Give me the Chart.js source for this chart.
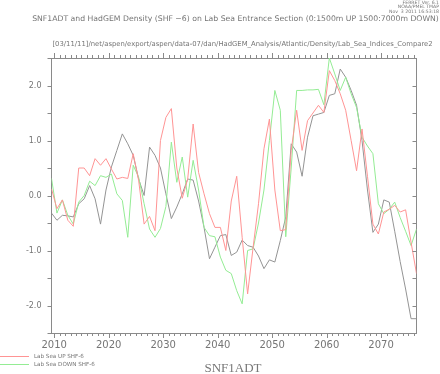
<!DOCTYPE html>
<html><head><meta charset="utf-8">
<script src="https://cdn.jsdelivr.net/npm/chart.js@4.4.0/dist/chart.umd.min.js"></script>
<style>html,body{margin:0;padding:0;background:#fff;overflow:hidden}canvas{display:block}</style>
</head><body>
<canvas id="c" width="440" height="374"></canvas>
<script>
// ---- data ----
const years = [2009.5,2010.5,2011.5,2012.5,2013.5,2014.5,2015.5,2016.5,2017.5,2018.5,
  2019.5,2020.5,2021.5,2022.5,2023.5,2024.5,2025.5,2026.5,2027.5,2028.5,
  2029.5,2030.5,2031.5,2032.5,2033.5,2034.5,2035.5,2036.5,2037.5,2038.5,
  2039.5,2040.5,2041.5,2042.5,2043.5,2044.5,2045.5,2046.5,2047.5,2048.5,
  2049.5,2050.5,2051.5,2052.5,2053.5,2054.5,2055.5,2056.5,2057.5,2058.5,
  2059.5,2060.5,2061.5,2062.5,2063.5,2064.5,2065.5,2066.5,2067.5,2068.5,
  2069.5,2070.5,2071.5,2072.5,2073.5,2074.5,2075.5,2076.5];
const labSeaUp = [0.12,-0.24,-0.08,-0.45,-0.56,0.50,0.50,0.36,0.67,0.55,
  0.67,0.48,0.30,0.33,0.31,0.76,0.27,-0.52,-0.38,-0.64,
  1.00,1.42,1.58,0.50,-0.05,0.30,1.30,0.42,0.03,-0.33,
  -0.58,-0.58,-1.00,-0.10,0.35,-0.76,-1.79,-0.95,-0.15,0.85,
  1.39,0.10,-0.64,-0.62,0.82,1.55,0.82,1.36,1.50,1.64,
  1.51,2.27,2.09,1.85,1.55,1.00,0.45,1.21,0.35,-0.52,
  -0.70,-0.30,-0.25,-0.18,-0.30,-0.26,-0.85,-1.42];
const labSeaDown = [0.31,-0.32,-0.08,-0.36,-0.52,-0.12,0.00,0.26,0.18,0.36,
  0.33,0.39,0.03,-0.09,-0.76,0.55,0.33,-0.15,-0.61,-0.76,
  -0.60,-0.20,0.97,0.24,0.70,-0.03,0.64,0.10,-0.58,-0.73,
  -0.75,-1.12,-1.36,-1.42,-1.73,-1.97,-1.00,-0.97,-0.50,0.10,
  1.00,1.91,1.55,-0.75,0.50,1.91,1.91,1.92,1.92,1.93,
  1.65,2.50,2.21,1.91,2.15,1.85,1.60,1.06,0.90,0.76,
  -0.15,-0.33,-0.25,-0.12,-0.40,-0.65,-0.91,-0.61];
const snf1adt = [-0.32,-0.45,-0.36,-0.37,-0.39,-0.15,-0.06,0.18,-0.06,-0.52,
  0.10,0.52,0.82,1.12,0.94,0.73,0.30,0.00,0.88,0.73,
  0.50,0.03,-0.42,-0.21,0.03,0.30,0.28,-0.10,-0.58,-1.15,
  -0.94,-0.73,-0.71,-1.09,-1.03,-0.81,-0.91,-0.94,-1.10,-1.33,
  -1.17,-1.21,-0.82,-0.39,0.94,0.79,0.35,1.06,1.45,1.48,
  1.51,1.82,1.85,2.30,2.15,1.91,1.64,1.00,0.10,-0.67,
  -0.52,-0.08,-0.12,-0.65,-1.20,-1.70,-2.24,-2.24];
const xTickLabels = [2010,2020,2030,2040,2050,2060,2070];
const yTickLabels = [-2,-1,0,1,2];
const yMinorTicks = [-2.5,-2,-1.5,-1,-0.5,0,0.5,1,1.5,2,2.5];
const seriesNames = ['Lab Sea UP SHF-6','Lab Sea DOWN SHF-6','SNF1ADT'];
const titleText = 'SNF1ADT and HadGEM Density (SHF \u22126) on Lab Sea Entrance Section (0:1500m UP 1500:7000m DOWN)';
const subtitleText = '[03/11/11]/net/aspen/export/aspen/data-07/dan/HadGEM_Analysis/Atlantic/Density/Lab_Sea_Indices_Compare2';
const headerLines = ['FERRET Ver. 6.1','NOAA/PMEL TMAP','Nov  3 2011 16:53:18'];
const bottomLabel = 'SNF1ADT';

// ---- styles ----
const RED = '#ff9494', GREEN = '#94ec94', GRAY = '#949494';
const AXIS = '#8a8a8a', TXT = '#757575';
const XMIN = 2009.5, XMAX = 2076.5, YMIN = -2.5, YMAX = 2.5;

function fitSize(ctx, text, family, targetW) {
  ctx.font = '20px ' + family;
  return 20 * targetW / ctx.measureText(text).width;
}

const decor = {
  id: 'decor',
  afterDraw(chart) {
    const {ctx, chartArea: a, scales} = chart;
    const xs = scales.x, ys = scales.y;
    ctx.save();
    ctx.strokeStyle = AXIS; ctx.lineWidth = 1;
    ctx.beginPath();
    for (let yr = Math.ceil(XMIN); yr <= XMAX; yr++) {
      const px = Math.round(xs.getPixelForValue(yr)) + 0.5;
      const major = yr % 10 === 0;
      const L = major ? 5 : 3;
      ctx.moveTo(px, a.bottom); ctx.lineTo(px, a.bottom + L);
      ctx.moveTo(px, a.top); ctx.lineTo(px, a.top - L);
    }
    for (const v of yMinorTicks) {
      const py = Math.round(ys.getPixelForValue(v)) + 0.5;
      ctx.moveTo(a.left, py); ctx.lineTo(a.left - 4, py);
      ctx.moveTo(a.right, py); ctx.lineTo(a.right - 4, py);
    }
    ctx.stroke();

    ctx.fillStyle = TXT;
    ctx.textBaseline = 'middle';
    // header
    ctx.textAlign = 'right';
    ctx.font = '4.6px "DejaVu Sans"';
    headerLines.forEach((t, i) => ctx.fillText(t, 439, 3 + i * 4.2));
    // title
    ctx.textAlign = 'center';
    let s = fitSize(ctx, titleText, '"DejaVu Sans"', 407);
    ctx.font = s + 'px "DejaVu Sans"';
    ctx.fillText(titleText, 235.5, 19);
    s = fitSize(ctx, subtitleText, '"DejaVu Sans"', 381);
    ctx.font = s + 'px "DejaVu Sans"';
    ctx.fillText(subtitleText, 242.5, 44.5);
    // legend
    const ds = chart.data.datasets;
    [0, 1].forEach((i, j) => {
      const y = 356.5 + j * 8;
      ctx.strokeStyle = ds[i].borderColor;
      ctx.beginPath(); ctx.moveTo(0, y); ctx.lineTo(29, y); ctx.stroke();
      ctx.textAlign = 'left';
      ctx.font = '5.6px "DejaVu Sans"';
      ctx.fillText(ds[i].label, 34, y);
    });
    // bottom label
    ctx.textAlign = 'center';
    ctx.fillStyle = '#777';
    ctx.font = '13px "Liberation Serif"';
    ctx.fillText(bottomLabel, 233, 369);
    ctx.restore();
  }
};

const mk = (vals) => years.map((x, i) => ({x, y: vals[i]}));
new Chart(document.getElementById('c').getContext('2d'), {
  type: 'line',
  data: {
    datasets: [
      {label: seriesNames[0], data: mk(labSeaUp), borderColor: RED},
      {label: seriesNames[1], data: mk(labSeaDown), borderColor: GREEN},
      {label: seriesNames[2], data: mk(snf1adt), borderColor: GRAY}
    ].map(d => Object.assign(d, {borderWidth: 1, pointRadius: 0, tension: 0, fill: false, xAxisID: 'x', yAxisID: 'y'}))
  },
  options: {
    responsive: false, animation: false, devicePixelRatio: 1,
    layout: {padding: 0},
    plugins: {legend: {display: false}, tooltip: {enabled: false}},
    scales: {
      x: {
        type: 'linear', position: 'bottom', min: XMIN, max: XMAX,
        afterFit(s) { s.height = 41; },
        afterBuildTicks(s) { s.ticks = xTickLabels.map(v => ({value: v})); },
        grid: {display: false, drawTicks: false},
        border: {display: true, color: AXIS, width: 1},
        ticks: {color: TXT, font: {family: 'DejaVu Sans', size: 10}, padding: 6, maxRotation: 0, autoSkip: false, callback: v => String(v)}
      },
      xTop: {
        type: 'linear', position: 'top', min: XMIN, max: XMAX,
        afterFit(s) { s.height = 58; },
        grid: {display: false, drawTicks: false},
        border: {display: true, color: AXIS, width: 1},
        ticks: {display: false}
      },
      y: {
        type: 'linear', position: 'left', min: YMIN, max: YMAX,
        afterFit(s) { s.width = 51.5; },
        afterBuildTicks(s) { s.ticks = yTickLabels.map(v => ({value: v})); },
        grid: {display: false, drawTicks: false},
        border: {display: true, color: AXIS, width: 1},
        ticks: {color: TXT, font: {family: 'DejaVu Sans', size: 8}, padding: 10, callback: v => (v < 0 ? '-' : '') + Math.abs(v).toFixed(1)}
      },
      yRight: {
        type: 'linear', position: 'right', min: YMIN, max: YMAX,
        afterFit(s) { s.width = 23.5; },
        grid: {display: false, drawTicks: false},
        border: {display: true, color: AXIS, width: 1},
        ticks: {display: false}
      }
    }
  },
  plugins: [decor]
});
</script>
</body></html>
